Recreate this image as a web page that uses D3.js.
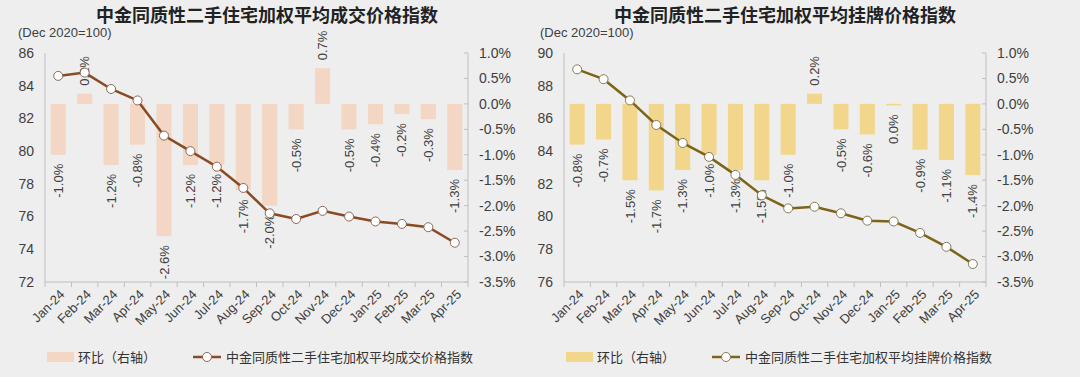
<!DOCTYPE html>
<html>
<head>
<meta charset="utf-8">
<script src="https://cdn.jsdelivr.net/npm/d3@7"></script>
<style>
  html, body { margin: 0; padding: 0; background: #eeeeee; }
  svg { display: block; font-family: "Liberation Sans", Arial, "Noto Sans CJK SC", sans-serif; }
  .cjk { font-family: "Noto Sans CJK SC", "Liberation Sans", sans-serif; }
</style>
</head>
<body>
<div id="chart"></div>
<script>
// --- data ---
const months = ['Jan-24', 'Feb-24', 'Mar-24', 'Apr-24', 'May-24', 'Jun-24', 'Jul-24', 'Aug-24',
  'Sep-24', 'Oct-24', 'Nov-24', 'Dec-24', 'Jan-25', 'Feb-25', 'Mar-25', 'Apr-25'];

// transaction price index (left panel)
const dealIndex = [84.6, 84.8, 83.8, 83.1, 80.95, 80.0, 79.05, 77.75, 76.2, 75.85, 76.35, 76.0, 75.7, 75.55, 75.35, 74.4];
const dealMoM = [-1.0, 0.2, -1.2, -0.8, -2.6, -1.2, -1.2, -1.7, -2.0, -0.5, 0.7, -0.5, -0.4, -0.2, -0.3, -1.3];

// listing price index (right panel)
const listIndex = [89.0, 88.4, 87.1, 85.6, 84.5, 83.65, 82.55, 81.3, 80.5, 80.6, 80.2, 79.75, 79.7, 79.0, 78.15, 77.1];
const listMoM = [-0.8, -0.7, -1.5, -1.7, -1.3, -1.0, -1.3, -1.5, -1.0, 0.2, -0.5, -0.6, -0.03, -0.9, -1.1, -1.4];

const dealTicks = [72, 74, 76, 78, 80, 82, 84, 86];
const listTicks = [76, 78, 80, 82, 84, 86, 88, 90];
const pctTicks = [-3.5, -3.0, -2.5, -2.0, -1.5, -1.0, -0.5, 0.0, 0.5, 1.0];

const W = 1080, H = 377;
const svg = d3.select('#chart').append('svg')
  .attr('width', W)
  .attr('height', H);

svg.append('rect').attr('width', W).attr('height', H).attr('fill', '#eeeeee');

const txt = '#404040';
const axisCol = '#bfbfbf';

function pctLabel(v) {
  if (Math.abs(v) < 0.05) return '0.0%';
  return v.toFixed(1) + '%';
}

function drawPanel(cfg) {
  const g = svg.append('g');
  const top = 53, bottom = 282;

  const x = d3.scaleBand().domain(months).range([cfg.left, cfg.right]).paddingInner(0.43).paddingOuter(0.215);
  const xb = d3.scaleBand().domain(months).range([cfg.left, cfg.right]);
  const y = d3.scaleLinear().domain(d3.extent(cfg.ticks)).range([bottom, top]);
  const y2 = d3.scaleLinear().domain([-3.5, 1.0]).range([bottom, top]);

  // title
  g.append('text')
    .attr('class', 'cjk')
    .attr('x', cfg.titleX).attr('y', 22)
    .attr('text-anchor', 'middle')
    .attr('font-size', 18).attr('font-weight', 700)
    .attr('fill', '#222')
    .text(cfg.title);

  g.append('text')
    .attr('x', cfg.unitX).attr('y', 37)
    .attr('font-size', 13).attr('fill', txt)
    .text('(Dec 2020=100)');

  // bars (right axis)
  g.selectAll('rect.bar')
    .data(cfg.mom)
    .enter().append('rect')
    .attr('class', 'bar')
    .attr('x', (d, i) => x(months[i]))
    .attr('width', x.bandwidth())
    .attr('y', d => y2(Math.max(0, d)))
    .attr('height', d => Math.abs(y2(d) - y2(0)))
    .attr('fill', cfg.barColor);

  // bar labels
  g.selectAll('text.blab')
    .data(cfg.mom)
    .enter().append('text')
    .attr('class', 'blab')
    .attr('transform', (d, i) => {
      const cx = x(months[i]) + x.bandwidth() / 2;
      const cy = d >= 0 ? y2(d) - 8 : y2(d) + 9;
      return `translate(${cx},${cy}) rotate(-90)`;
    })
    .attr('text-anchor', d => d >= 0 ? 'start' : 'end')
    .attr('dy', '0.35em')
    .attr('font-size', 13)
    .attr('fill', txt)
    .text(pctLabel);

  // axes lines
  g.append('line')
    .attr('x1', cfg.left).attr('x2', cfg.left)
    .attr('y1', top).attr('y2', bottom)
    .attr('stroke', axisCol);
  g.append('line')
    .attr('x1', cfg.right).attr('x2', cfg.right)
    .attr('y1', top).attr('y2', bottom)
    .attr('stroke', axisCol);
  g.append('line')
    .attr('x1', cfg.left).attr('x2', cfg.right)
    .attr('y1', bottom).attr('y2', bottom)
    .attr('stroke', axisCol);

  // left axis labels
  g.selectAll('text.yl')
    .data(cfg.ticks)
    .enter().append('text')
    .attr('x', cfg.left - 11)
    .attr('y', d => y(d))
    .attr('dy', '0.35em')
    .attr('text-anchor', 'end')
    .attr('font-size', 14)
    .attr('fill', txt)
    .text(d => d);

  // right axis ticks + labels
  g.selectAll('line.yr')
    .data(pctTicks)
    .enter().append('line')
    .attr('x1', cfg.right - 4).attr('x2', cfg.right)
    .attr('y1', d => y2(d)).attr('y2', d => y2(d))
    .attr('stroke', axisCol);
  g.selectAll('text.yr')
    .data(pctTicks)
    .enter().append('text')
    .attr('x', cfg.right + 11)
    .attr('y', d => y2(d))
    .attr('dy', '0.35em')
    .attr('font-size', 14)
    .attr('fill', txt)
    .text(d => d.toFixed(1) + '%');

  // x ticks at band edges
  const edges = months.map(m => xb(m)).concat([cfg.right]);
  g.selectAll('line.xt')
    .data(edges)
    .enter().append('line')
    .attr('x1', d => d).attr('x2', d => d)
    .attr('y1', bottom).attr('y2', bottom + 5)
    .attr('stroke', axisCol);

  g.selectAll('text.xl')
    .data(months)
    .enter().append('text')
    .attr('transform', d => `translate(${xb(d) + xb.bandwidth() / 2 + 4},${bottom + 10}) rotate(-45)`)
    .attr('text-anchor', 'end')
    .attr('dy', '0.35em')
    .attr('font-size', 13)
    .attr('fill', txt)
    .text(d => d);

  // index line
  const line = d3.line()
    .x((d, i) => xb(months[i]) + xb.bandwidth() / 2)
    .y(d => y(d));

  g.append('path')
    .datum(cfg.index)
    .attr('d', line)
    .attr('fill', 'none')
    .attr('stroke', cfg.lineColor)
    .attr('stroke-width', 2.5);

  g.selectAll('circle.pt')
    .data(cfg.index)
    .enter().append('circle')
    .attr('cx', (d, i) => xb(months[i]) + xb.bandwidth() / 2)
    .attr('cy', d => y(d))
    .attr('r', 4.5)
    .attr('fill', '#ffffff')
    .attr('stroke', cfg.markerStroke)
    .attr('stroke-width', 1);

  // legend
  const ly = 357;
  g.append('rect')
    .attr('x', cfg.legX).attr('y', ly - 5)
    .attr('width', 27).attr('height', 10)
    .attr('fill', cfg.barColor);
  g.append('text')
    .attr('class', 'cjk')
    .attr('x', cfg.legX + 31).attr('y', ly)
    .attr('dy', '0.35em')
    .attr('font-size', 13).attr('fill', '#333')
    .text('环比（右轴）');

  const lx = cfg.legX + 146;
  g.append('line')
    .attr('x1', lx).attr('x2', lx + 28)
    .attr('y1', ly).attr('y2', ly)
    .attr('stroke', cfg.lineColor).attr('stroke-width', 2.5);
  g.append('circle')
    .attr('cx', lx + 14).attr('cy', ly).attr('r', 4.5)
    .attr('fill', '#fff').attr('stroke', cfg.markerStroke);
  g.append('text')
    .attr('class', 'cjk')
    .attr('x', lx + 33).attr('y', ly)
    .attr('dy', '0.35em')
    .attr('font-size', 13).attr('fill', '#333')
    .text(cfg.title);
}

drawPanel({
  title: '中金同质性二手住宅加权平均成交价格指数',
  titleX: 267, unitX: 18,
  left: 45, right: 468,
  ticks: dealTicks,
  index: dealIndex, mom: dealMoM,
  barColor: '#f3d6c3', lineColor: '#8a4a22', markerStroke: '#8a6a58',
  legX: 47
});

drawPanel({
  title: '中金同质性二手住宅加权平均挂牌价格指数',
  titleX: 785, unitX: 540,
  left: 564, right: 986,
  ticks: listTicks,
  index: listIndex, mom: listMoM,
  barColor: '#f1d68b', lineColor: '#7c6418', markerStroke: '#857a5a',
  legX: 566
});
</script>
</body>
</html>
